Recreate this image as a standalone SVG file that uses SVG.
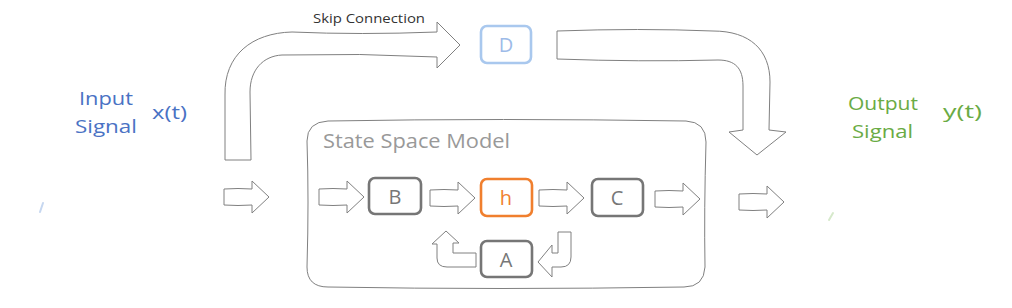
<svg xmlns="http://www.w3.org/2000/svg" width="1012" height="308" viewBox="0 0 1012 308">
<style>
.flow{fill:#fff;stroke:#808080;stroke-width:1;stroke-linejoin:round}
.frame{fill:none;stroke:#808080;stroke-width:1}
.box{fill:#fff;stroke-width:2.6}
.lbl{font-family:"Open Sans","Noto Sans",sans-serif;text-anchor:middle;dominant-baseline:central}
.blue{fill:#4a72c4;font-family:"Open Sans","Noto Sans",sans-serif;font-size:18px}
.green{fill:#6aab45;font-family:"Open Sans","Noto Sans",sans-serif;font-size:18px}
</style>
<defs>
<path id="harrow" d="M0,-8 Q14,-9 28,-8 L28,-16 L45,0 L28,16 L28,8 Q14,9 0,8 Z"/>
</defs>
<rect width="1012" height="308" fill="#fff"/>
<g id="ssm">
  <path class="frame" d="M328,121 Q500,118 686,121 Q706,122 706,142 Q704,210 705,267 Q704,287 684,287 Q500,290 328,287 Q307,287 307,267 Q309,200 307,141 Q307,122 328,121 Z"/>
  <text x="323" y="148" font-family="'Open Sans','Noto Sans',sans-serif" font-size="20" fill="#999" textLength="187" lengthAdjust="spacingAndGlyphs">State Space Model</text>
</g>
<g id="connectors">
  <path class="flow" d="M225,160 L225,95 C224,55 252,33 292,32 Q360,35 437,32 L437,22 L460,45 L437,68 L437,57 Q360,53 282,55 C263,56 250,70 250,92 L251,160 Z"/>
  <path class="flow" d="M557,31 Q640,28 713,31 C750,31 770,50 770,82 L769,130 L786,132 L757,155 L729,132 L743,130 L743,86 C743,68 735,60 718,60 Q640,62 557,59 Z"/>
  <use href="#harrow" class="flow" x="224" y="197"/>
  <use href="#harrow" class="flow" x="319" y="197"/>
  <use href="#harrow" class="flow" x="430" y="198"/>
  <use href="#harrow" class="flow" x="539" y="198"/>
  <use href="#harrow" class="flow" x="655" y="199"/>
  <use href="#harrow" class="flow" x="739" y="202"/>
  <path class="flow" d="M476,253 L453,253 L453,243 L459,243 L446,231 L432,244 L437,244 L437,258 Q437,267 447,267 L476,267 Z"/>
  <path class="flow" d="M558,232 L571,232 L571,257 Q571,267 561,267 L552,267 L552,277 L538,262 L552,245 L552,253 L558,253 Z"/>
  <path d="M43,203 L40,212" stroke="#c6d7f0" stroke-width="2" stroke-linecap="round"/>
  <path d="M833,213 L829,220" stroke="#d6e9cb" stroke-width="2" stroke-linecap="round"/>
</g>
<g id="skip-label">
  <text x="313" y="23" font-family="'Open Sans','Noto Sans',sans-serif" font-size="13" fill="#333" textLength="112" lengthAdjust="spacingAndGlyphs">Skip Connection</text>
</g>
<g id="input">
  <text x="79" y="105" class="blue" textLength="54" lengthAdjust="spacingAndGlyphs">Input</text>
  <text x="75" y="133" class="blue" textLength="62" lengthAdjust="spacingAndGlyphs">Signal</text>
  <text x="152" y="119" class="blue" textLength="35" lengthAdjust="spacingAndGlyphs">x(t)</text>
</g>
<g id="output">
  <text x="848" y="110" class="green" textLength="70" lengthAdjust="spacingAndGlyphs">Output</text>
  <text x="852" y="138" class="green" textLength="61" lengthAdjust="spacingAndGlyphs">Signal</text>
  <text x="943" y="118" class="green" textLength="39" lengthAdjust="spacingAndGlyphs">y(t)</text>
</g>
<g id="D">
  <rect class="box" x="481" y="26" width="50" height="37" rx="6" stroke="#a9c8ee"/>
  <text class="lbl" x="506" y="44" font-size="20" fill="#9dbbe8">D</text>
</g>
<g id="B">
  <rect class="box" x="369" y="178" width="52" height="36" rx="6" stroke="#767676"/>
  <text class="lbl" x="395" y="196" font-size="20" fill="#777">B</text>
</g>
<g id="h">
  <rect class="box" x="481" y="179" width="51" height="37" rx="6" stroke="#f07f2e"/>
  <text class="lbl" x="506" y="197" font-size="20" fill="#f07f2e">h</text>
</g>
<g id="C">
  <rect class="box" x="592" y="179" width="51" height="37" rx="6" stroke="#767676"/>
  <text class="lbl" x="617" y="197" font-size="20" fill="#777">C</text>
</g>
<g id="A">
  <rect class="box" x="481" y="241" width="51" height="36" rx="6" stroke="#767676"/>
  <text class="lbl" x="506" y="259" font-size="20" fill="#777">A</text>
</g>
</svg>
